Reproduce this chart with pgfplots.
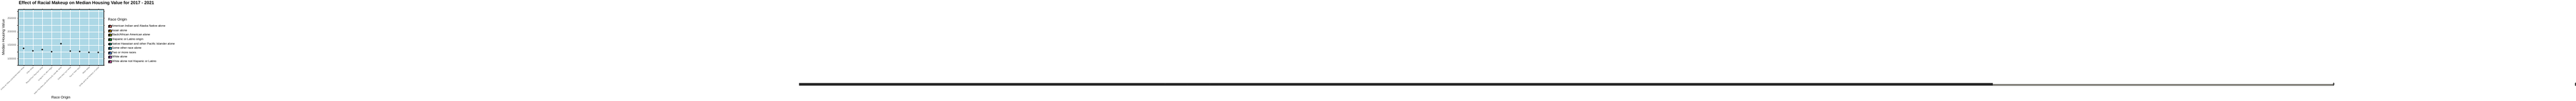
\documentclass[border=0pt]{standalone}
\usepackage{pgfplots}
\pgfplotsset{compat=1.18}
\usepgfplotslibrary{statistics}
\usepackage{fontspec}
\setmainfont{Liberation Sans}
\definecolor{c1}{HTML}{F8766D}\definecolor{c2}{HTML}{D39200}\definecolor{c3}{HTML}{93AA00}
\definecolor{c4}{HTML}{00BA38}\definecolor{c5}{HTML}{00C19F}\definecolor{c6}{HTML}{00B9E3}
\definecolor{c7}{HTML}{619CFF}\definecolor{c8}{HTML}{DB72FB}\definecolor{c9}{HTML}{FF61C3}
\definecolor{bg}{HTML}{ADD8E6}
\pgfplotsset{myleg/.style={legend image code/.code={
  \draw[black,line width=0.5pt] (0.17cm,-0.17cm)--(0.17cm,0.17cm);
  \draw[##1,draw=black,line width=0.5pt] (0cm,-0.11cm) rectangle (0.34cm,0.11cm);
  \fill[black] (0.17cm,0cm) circle (0.075cm);}}}
% values in thousands
\newcommand{\bx}[8]{%
 \addplot[boxplot prepared={draw position=#1,lower whisker=#2,lower quartile=#3,median=#4,upper quartile=#5,upper whisker=#6,box extend=0.75,whisker extend=0},
   fill=#7,draw=black!85,line width=0.6pt,mark=*,mark size=1.3pt,mark options={fill=black!80,draw=black!80},
   boxplot/every median/.style={line width=1.6pt,draw=black!80},forget plot] table[row sep=\\,y index=0]{#8};
}
\begin{document}
\begin{tikzpicture}
\begin{axis}[scale only axis,width=9.3cm,height=6.12cm,
 xmin=0.4,xmax=9.6,ymin=74.77,ymax=283.4,
 axis background/.style={fill=bg},
 grid=both,major grid style={white,line width=0.6pt},minor grid style={white,line width=0.3pt},
 minor ytick={75,125,175,225,275},
 xtick={1,...,9},minor xtick={},
 xticklabels={American Indian and Alaska Native alone,Asian alone,Black/African American alone,Hispanic or Latino origin,Native Hawaiian and other Pacific Islander alone,Some other race alone,Two or more races,White alone,White alone not Hispanic or Latino},
 xticklabel style={rotate=45,anchor=north east,font=\fontsize{5.5}{6}\selectfont,text=black!70,inner sep=1pt},
 ytick={100,150,200,250},
 yticklabels={100000,150000,200000,250000},
 yticklabel style={font=\fontsize{8}{9}\selectfont,text=black!70},
 tick align=outside,major tick length=2pt,tick style={black!70},
 axis line style={black,line width=0.6pt},
 xlabel={Race Origin},ylabel={Median Housing Value},
 label style={font=\fontsize{11}{12}\selectfont},
 title={\textbf{Effect of Racial Makeup on Median Housing Value for 2017 - 2021}},
 title style={font=\fontsize{13.5}{15}\selectfont,at={(0,1)},anchor=south west,xshift=-0.03cm,yshift=0.1cm},
 legend style={draw=none,fill=none,at={(1.035,0.745)},anchor=north west,font=\fontsize{9}{10}\selectfont,row sep=1.7pt},
 legend cell align=left,
 clip=false]
\bx{1}{84}{113.3}{138.1}{167.15}{248.3}{c1}{274.2\\}
\bx{2}{84}{111.25}{129}{167}{248.3}{c2}{274.2\\}
\bx{3}{84}{111.25}{133.6}{164.4}{211.8}{c3}{274.2\\248.3\\}
\bx{4}{84}{104.8}{125.6}{153.4}{211.8}{c4}{274.2\\248.3\\}
\bx{5}{88}{126.6}{155.5}{183.9}{248.3}{c5}{274.2\\}
\bx{6}{84}{105.8}{128}{159.7}{211.8}{c6}{274.2\\248.3\\}
\bx{7}{84}{104.8}{126.6}{153.4}{211.8}{c7}{274.2\\248.3\\}
\bx{8}{84}{104.4}{123.2}{149.8}{211.8}{c8}{274.2\\248.3\\}
\bx{9}{84}{104.4}{123.2}{149.8}{211.8}{c9}{274.2\\248.3\\}
\addplot[only marks,mark=*,mark size=2.3pt,black,forget plot] coordinates {(1,138.1)(2,129)(3,133.6)(4,125.6)(5,155.5)(6,128)(7,126.6)(8,123.2)(9,123.2)};
\addlegendimage{myleg,fill=c1}\addlegendentry{American Indian and Alaska Native alone}
\addlegendimage{myleg,fill=c2}\addlegendentry{Asian alone}
\addlegendimage{myleg,fill=c3}\addlegendentry{Black/African American alone}
\addlegendimage{myleg,fill=c4}\addlegendentry{Hispanic or Latino origin}
\addlegendimage{myleg,fill=c5}\addlegendentry{Native Hawaiian and other Pacific Islander alone}
\addlegendimage{myleg,fill=c6}\addlegendentry{Some other race alone}
\addlegendimage{myleg,fill=c7}\addlegendentry{Two or more races}
\addlegendimage{myleg,fill=c8}\addlegendentry{White alone}
\addlegendimage{myleg,fill=c9}\addlegendentry{White alone not Hispanic or Latino}
\node[anchor=south west,font=\fontsize{11}{12}\selectfont] at (rel axis cs:1.035,0.76) {Race Origin};
\end{axis}
\end{tikzpicture}
\end{document}
